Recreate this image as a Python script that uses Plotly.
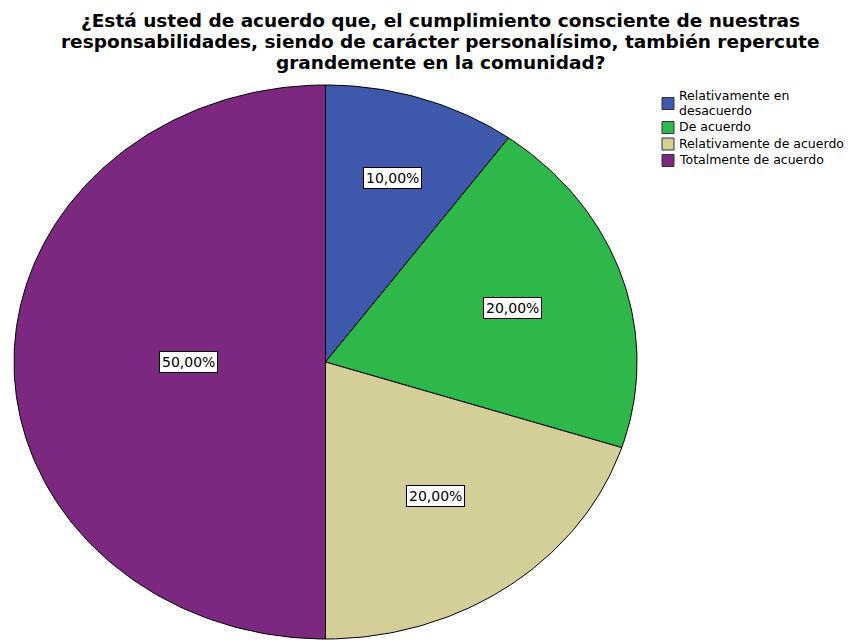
import numpy as np
import plotly.graph_objects as go

# ---- data ----
categories = ["Relativamente en desacuerdo", "De acuerdo", "Relativamente de acuerdo", "Totalmente de acuerdo"]
legend_lines = [["Relativamente en", "desacuerdo"], ["De acuerdo"], ["Relativamente de acuerdo"], ["Totalmente de acuerdo"]]
percentages = [10.0, 20.0, 20.0, 50.0]
title_lines = ["¿Está usted de acuerdo que, el cumplimiento consciente de nuestras",
               "responsabilidades, siendo de carácter personalísimo, también repercute",
               "grandemente en la comunidad?"]

# ---- styles / layout (data coords == screen pixels; page body has an 8px margin) ----
colors = ["#3E58AC", "#2EB84A", "#D4CF98", "#7D2880"]
W, H, OFF = 864, 640, 8
cx, cy = 325.5, 362.0
rx, ry = 311.5, 277.0
label_r = [0.7, 0.63, 0.6, 0.44]
FONT = "DejaVu Sans, Verdana, sans-serif"

fig = go.Figure()
total = sum(percentages)
start = 0.0
for i, (cat, v) in enumerate(zip(categories, percentages)):
    a0 = start / total * 2 * np.pi
    a1 = (start + v) / total * 2 * np.pi
    t = np.linspace(a0, a1, max(4, int(400 * v / total)))
    xs = np.concatenate([[cx], cx + rx * np.sin(t), [cx]])
    ys = np.concatenate([[cy], cy - ry * np.cos(t), [cy]])
    fig.add_trace(go.Scatter(x=xs, y=ys, mode="lines", fill="toself", name=cat,
                             fillcolor=colors[i], line=dict(color="black", width=1),
                             showlegend=False, hoverinfo="skip"))
    am = (a0 + a1) / 2
    k = label_r[i]
    fig.add_annotation(x=cx + k * rx * np.sin(am), y=cy - k * ry * np.cos(am),
                       text=f"{v:.2f}%".replace(".", ","), showarrow=False,
                       font=dict(family=FONT, size=14, color="black"),
                       bgcolor="white", bordercolor="black", borderwidth=1, borderpad=2)
    start += v

# title: one annotation per line
title_y0, title_dy = 20, 21
for j, line in enumerate(title_lines):
    fig.add_annotation(x=OFF + W / 2, y=title_y0 + j * title_dy, text=line, showarrow=False,
                       xanchor="center", yanchor="middle",
                       font=dict(family=FONT, size=18.5, color="black", weight="bold"))

# legend
leg_x, leg_y0, line_h, box = 662, 95, 15, 12
row_y = leg_y0
for i, lines in enumerate(legend_lines):
    n = len(lines)
    mid = row_y + (n - 1) * line_h / 2
    fig.add_shape(type="rect", x0=leg_x, x1=leg_x + box, y0=mid - box / 2 + 1, y1=mid + box / 2 + 1,
                  fillcolor=colors[i], line=dict(color="#333333", width=1))
    for j, line in enumerate(lines):
        fig.add_annotation(x=leg_x + box + 3, y=row_y + j * line_h, text=line, showarrow=False,
                           xanchor="left", yanchor="middle",
                           font=dict(family=FONT, size=12.5, color="black"))
    row_y += (n - 1) * line_h + 16.5

fig.update_layout(
    width=W, height=H, margin=dict(l=0, r=0, t=0, b=0),
    paper_bgcolor="white", plot_bgcolor="white",
    xaxis=dict(range=[OFF, OFF + W], visible=False, fixedrange=True),
    yaxis=dict(range=[OFF + H, OFF], visible=False, fixedrange=True),
    showlegend=False,
)
fig.write_html("out.html")
